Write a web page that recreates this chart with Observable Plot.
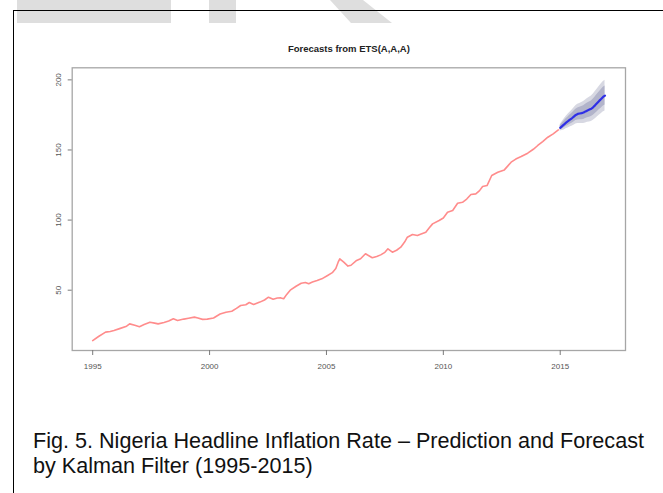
<!DOCTYPE html>
<html>
<head>
<meta charset="utf-8">
<script src="https://cdn.jsdelivr.net/npm/d3@7"></script>
<script src="https://cdn.jsdelivr.net/npm/@observablehq/plot@0.6"></script>
<style>
  html, body { margin: 0; padding: 0; background: #fff; }
  body { width: 663px; height: 493px; position: relative; overflow: hidden; font-family: "Liberation Sans", Arial, sans-serif; }
  #chart { position: absolute; left: 0; top: 0; }
  .mark-bg { position: absolute; background: #dedede; z-index: 1; }
  #frame-border { position: absolute; left: 12.5px; top: 9.5px; width: 700px; height: 520px;
    border-top: 1.6px solid #000; border-left: 1.6px solid #000; z-index: 2; }
  #caption { position: absolute; left: 33px; top: 428px; font-size: 21.6px; line-height: 25px; color: #111; white-space: nowrap; z-index: 3; }
</style>
</head>
<body>
<div class="mark-bg" style="left:17px;top:0;width:154px;height:23px"></div>
<div class="mark-bg" style="left:209px;top:0;width:27px;height:23px"></div>
<div class="mark-bg" style="left:320px;top:0;width:72px;height:23px;clip-path:polygon(10px 0,43px 0,72px 23px,31px 23px)"></div>
<div id="frame-border"></div>
<div id="chart"></div>
<div id="caption">Fig. 5. Nigeria Headline Inflation Rate – Prediction and Forecast<br>by Kalman Filter (1995-2015)</div>
<script>
// Headline CPI index, observed (decimal year, index value)
const histYears = [
  1995.00, 1995.25, 1995.55, 1995.75, 1995.91, 1996.15, 1996.45, 1996.58, 1996.80, 1997.00,
  1997.20, 1997.45, 1997.65, 1997.80, 1998.05, 1998.25, 1998.45, 1998.63, 1998.90, 1999.10,
  1999.35, 1999.50, 1999.70, 1999.90, 2000.17, 2000.45, 2000.70, 2000.95, 2001.15, 2001.33,
  2001.55, 2001.70, 2001.88, 2002.15, 2002.35, 2002.52, 2002.72, 2002.90, 2003.05, 2003.17,
  2003.30, 2003.45, 2003.70, 2003.92, 2004.10, 2004.24, 2004.40, 2004.60, 2004.80, 2005.05,
  2005.25, 2005.40, 2005.50, 2005.57, 2005.74, 2005.92, 2006.05, 2006.29, 2006.46, 2006.67,
  2006.96, 2007.15, 2007.32, 2007.50, 2007.63, 2007.82, 2008.00, 2008.18, 2008.35, 2008.46,
  2008.68, 2008.89, 2009.05, 2009.25, 2009.40, 2009.54, 2009.82, 2010.00, 2010.18, 2010.40,
  2010.61, 2010.82, 2011.00, 2011.18, 2011.39, 2011.55, 2011.68, 2011.87, 2012.07, 2012.33,
  2012.61, 2012.90, 2013.10, 2013.33, 2013.61, 2013.85, 2014.04, 2014.25, 2014.47, 2014.70,
  2014.92
];
const histValues = [
  14.1, 17.0, 20.1, 20.6, 21.3, 22.6, 24.3, 26.0, 25.0, 24.0,
  25.5, 27.2, 26.5, 26.0, 27.0, 28.0, 29.6, 28.4, 29.4, 30.0,
  30.8, 30.2, 29.2, 29.4, 30.2, 33.0, 34.3, 35.0, 37.0, 39.1,
  39.6, 41.2, 39.8, 41.5, 43.0, 45.0, 43.5, 44.4, 44.5, 43.9,
  47.0, 50.0, 52.8, 55.0, 55.5, 54.6, 55.8, 56.9, 58.1, 60.5,
  62.5, 65.5, 70.0, 72.4, 70.0, 67.2, 67.8, 71.2, 72.4, 76.0,
  73.1, 74.0, 75.2, 77.0, 79.5, 77.1, 78.5, 80.7, 84.5, 87.8,
  89.7, 89.0, 90.0, 91.3, 94.5, 97.3, 99.7, 101.5, 105.6, 106.8,
  112.0, 112.7, 115.0, 118.2, 118.7, 121.0, 123.9, 124.6, 131.8, 134.1,
  135.8, 141.3, 143.5, 145.3, 147.7, 150.5, 153.2, 156.0, 159.1, 161.5,
  164.3
];

// ETS(A,A,A) point forecasts, monthly from Jan 2015
const fcStart = 2015;
const fcMean = [
  165.8, 167.0, 168.2, 169.5, 170.5, 171.6, 172.6, 173.8, 175.0, 175.7, 176.0, 176.3,
  176.7, 177.5, 178.2, 178.8, 179.4, 180.6, 182.0, 183.5, 185.0, 186.4, 187.8, 188.8
];
// Half-widths of the 80% and 95% prediction intervals
const fcHalf80 = [
  1.5, 2.0, 2.4, 2.7, 3.0, 3.3, 3.5, 3.8, 4.0, 4.3, 4.5, 4.7,
  4.9, 5.1, 5.3, 5.5, 5.6, 5.8, 6.0, 6.2, 6.4, 6.6, 6.7, 6.8
];
const fcHalf95 = [
  2.3, 3.2, 3.9, 4.4, 4.9, 5.3, 5.7, 6.1, 6.5, 6.9, 7.2, 7.5,
  7.9, 8.2, 8.5, 8.8, 9.1, 9.4, 9.7, 10.0, 10.3, 10.6, 10.8, 11.0
];

const xTicks = [1995, 2000, 2005, 2010, 2015];
const yTicks = [50, 100, 150, 200];
const chartTitle = "Forecasts from ETS(A,A,A)";

const hist = histYears.map((t, i) => ({t, v: histValues[i]}));
const fc = fcMean.map((m, i) => ({
  t: fcStart + i / 12,
  m,
  lo80: m - fcHalf80[i], hi80: m + fcHalf80[i],
  lo95: m - fcHalf95[i], hi95: m + fcHalf95[i]
}));

const xDomain = [1994.123, 2017.793];
const yDomain = [7.0, 208.6];

const chart = Plot.plot({
  width: 663,
  height: 400,
  marginLeft: 71.7,
  marginRight: 38,
  marginTop: 67.3,
  marginBottom: 50,
  style: {background: "transparent", fontFamily: "'Liberation Sans', Arial, sans-serif"},
  x: {domain: xDomain, label: null},
  y: {domain: yDomain, label: null},
  marks: [
    Plot.areaY(fc, {x: "t", y1: "lo95", y2: "hi95", fill: "#d7d8e2"}),
    Plot.areaY(fc, {x: "t", y1: "lo80", y2: "hi80", fill: "#b2b4ca"}),
    Plot.line(hist, {x: "t", y: "v", stroke: "#ff8c8c", strokeWidth: 1.6}),
    Plot.line(fc, {x: "t", y: "m", stroke: "#2f2fe6", strokeWidth: 2.2}),
    Plot.frame({stroke: "#a6a6a6", strokeWidth: 1.3}),
    Plot.axisX({ticks: xTicks, tickFormat: d => String(d), tickSize: 5, tickPadding: 8,
      fontSize: 8, stroke: "#7a7a7a", fill: "#555", strokeWidth: 1, label: null}),
    Plot.axisY({ticks: yTicks, tickFormat: () => "", tickSize: 4, stroke: "#7a7a7a", strokeWidth: 1, label: null}),
    Plot.text(yTicks, {x: () => xDomain[0], y: d => d, text: d => String(d), rotate: -90,
      dx: -13.4, fontSize: 8, fill: "#555"}),
    Plot.text([chartTitle], {frameAnchor: "top", dy: -23, text: d => d,
      fontSize: 9.5, fontWeight: "bold", fill: "#222"})
  ]
});
document.getElementById("chart").appendChild(chart);
</script>
</body>
</html>
